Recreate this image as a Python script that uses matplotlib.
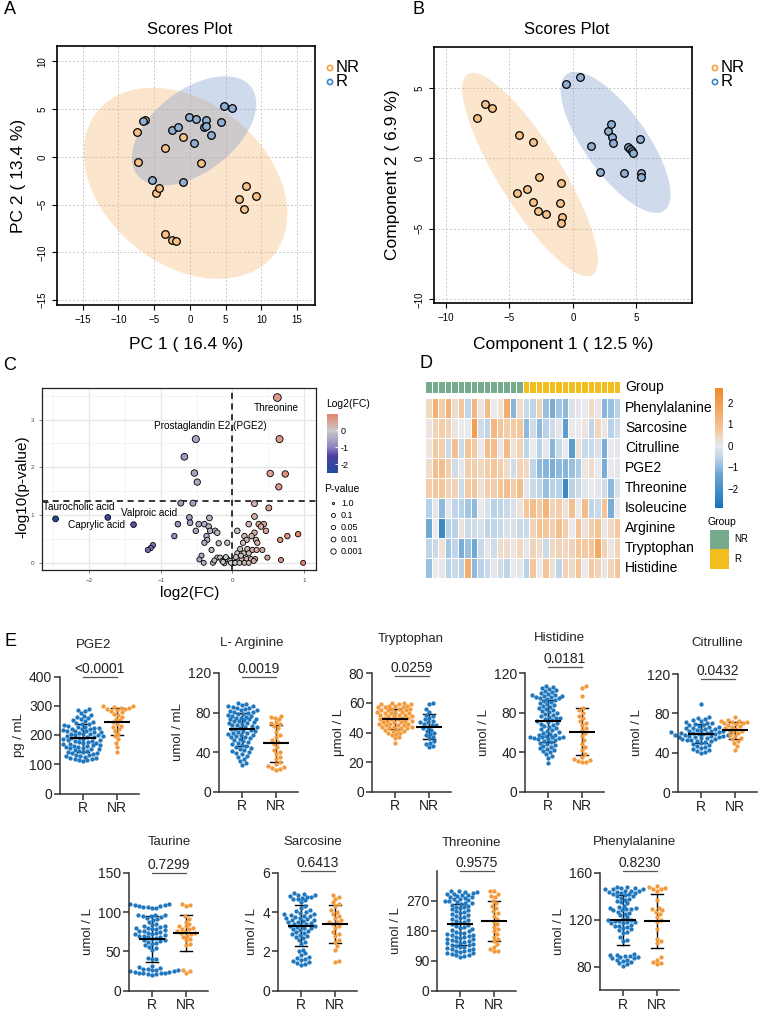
import numpy as np
import matplotlib
matplotlib.use("Agg")
import matplotlib as mpl
import matplotlib.pyplot as plt
from matplotlib.patches import Ellipse, Rectangle
from matplotlib.colors import LinearSegmentedColormap, ListedColormap, Normalize
from matplotlib.lines import Line2D

plt.rcParams['font.family'] = ['Liberation Sans', 'DejaVu Sans']

# ---------------- data ----------------
# A: PCA scores
pca_nr_x = [-7.4, -6.3, -7.3, -3.5, -1.0, 1.5, -4.7, -4.3, -3.5, -2.5, -2.0, 7.9, 6.9, 7.6, 9.3]
pca_nr_y = [2.6, 3.9, -0.5, 0.9, 2.1, -0.6, -3.8, -3.3, -8.1, -8.7, -8.8, -3.1, -4.4, -5.5, -4.1]
pca_r_x = [-6.6, -5.3, -2.5, -1.7, -0.1, 0.9, 2.2, 1.9, 2.2, 0.5, 3.0, 4.4, -0.9, 4.8, 5.9]
pca_r_y = [3.8, -2.4, 2.8, 3.1, 4.2, 4.0, 3.9, 3.1, 3.2, 1.4, 2.3, 3.6, -2.6, 5.3, 5.1]

# B: PLS-DA scores
pls_nr_x = [-7.53, -6.92, -6.34, -4.26, -3.16, -2.63, -4.42, -3.58, -3.16, -2.76, -2.13, -0.92, -1.05, -0.82, -0.95]
pls_nr_y = [2.85, 3.84, 3.54, 1.65, 1.16, -1.3, -2.43, -2.19, -3.11, -3.73, -3.92, -1.72, -3.14, -4.13, -4.55]
pls_r_x = [-0.53, 0.55, 1.42, 2.16, 2.76, 3.05, 3.08, 3.18, 4.0, 4.34, 4.53, 4.66, 4.74, 5.29, 5.39, 5.37]
pls_r_y = [5.26, 5.8, 0.85, -0.99, 1.93, 2.43, 1.53, 1.11, -1.06, 0.83, 0.66, 0.52, 0.4, 1.37, -1.06, -1.34]

# C: volcano
volc_fc = [0.63, 0.66, 0.53, 0.74, 0.65, -0.51, -0.67, -0.53, -0.49,
           -2.47, -1.74, -1.38, -1.11, -1.14, -1.18, -0.81, -0.76, -0.72, -0.55, -0.60,
           -0.59, -0.51, -0.47, -0.39, -0.32, -0.33, -0.31, -0.24, -0.21, -0.36, -0.35,
           -0.39, -0.19, -0.07, -0.29, -0.43, -0.46, -0.40, -0.27, -0.21, -0.17, -0.14,
           -0.11, -0.07, -0.03, 0.02, -0.02,
           0.31, 0.51, 0.31, 0.23, 0.37, 0.44, 0.47, 0.40, 0.31, 0.07, 0.17, 0.27,
           0.33, 0.35, 0.20, 0.15, 0.11, 0.21, 0.28, 0.34, 0.42, 0.49, 0.67, 0.77,
           0.92, 0.68, 0.99, 0.07, 0.16, 0.23, 0.07, 0.13, 0.20, 0.26, 0.32, 0.04,
           0.10, 0.17, 0.23, 0.30, -0.09, -0.13, 0.05, -0.25, 0.12]
volc_nlp = [3.46, 2.59, 1.87, 1.86, 1.59, 2.59, 2.22, 1.88, 1.69,
            0.92, 0.95, 0.80, 0.37, 0.31, 0.27, 0.56, 0.81, 1.25, 1.25, 0.95,
            0.84, 0.67, 0.81, 0.81, 0.94, 0.76, 0.67, 0.67, 0.63, 0.56, 0.48,
            0.42, 0.41, 0.42, 0.27, 0.15, 0.07, 0.0, 0.0, 0.11, 0.11, 0.04,
            -0.01, 0.08, 0.04, 0.0, 0.0,
            1.24, 1.15, 0.97, 0.81, 0.81, 0.81, 0.67, 0.76, 0.63, 0.67, 0.56, 0.56,
            0.48, 0.42, 0.48, 0.42, 0.29, 0.29, 0.27, 0.27, 0.27, 0.11, 0.48, 0.56,
            0.60, 0.06, 0.0, 0.20, 0.20, 0.20, 0.08, 0.08, 0.08, 0.08, 0.08, 0.0,
            0.0, 0.0, 0.0, 0.04, 0.12, 0.02, 0.12, 0.05, 0.15]
volc_labels = ["Threonine", "Prostaglandin E2 (PGE2)", "Taurocholic acid",
               "Caprylic acid", "Valproic acid"]
pval_legend = ["1.0", "0.1", "0.05", "0.01", "0.001"]

# D: heatmap (z-scores), 15 NR then 15 R columns
hm_rows = ["Phenylalanine", "Sarcosine", "Citrulline", "PGE2", "Threonine",
           "Isoleucine", "Arginine", "Tryptophan", "Histidine"]
hm_phe = [0.4, 1.4, 0.6, 1.3, 0.3, 0.8, -0.5, 1.2, 0.1, 1.1, 0.0, 0.2, 1.5, -1.1, 0.3,
          -0.4, -0.5, 0.5, -0.9, -1.2, -0.8, -1.0, -0.2, -0.1, 0.0, 0.3, 0.1, -1.1, -0.9, -0.6]
hm_sar = [0.1, 0.5, 0.6, 0.5, 0.1, 0.0, 0.0, 2.0, -0.3, -0.5, 1.2, 0.8, 0.6, 0.7, 0.8,
          -1.0, -0.3, -1.0, -0.6, -0.3, -0.1, -1.6, 0.0, 0.0, 0.1, -0.5, 0.4, 0.1, -0.6, -0.3]
hm_cit = [0.1, 0.7, 0.6, -0.4, 1.0, -0.4, 0.9, 0.7, 0.0, 1.0, 1.1, 0.1, 1.1, 0.2, 0.5,
          -0.5, 0.0, -0.6, -0.1, -1.1, -0.4, 0.0, -1.6, 0.2, -0.4, -0.4, -0.2, -1.2, 0.0, -0.1]
hm_pge = [0.3, 1.0, 1.0, 0.6, -0.3, -0.1, 0.6, 0.6, 0.4, 0.6, 0.8, 0.6, 0.3, -0.3, 0.5,
          0.4, -0.5, -1.0, -1.1, -1.2, -1.0, -1.1, -0.9, -0.7, 0.1, 0.3, 0.0, -1.2, 0.0, -0.1]
hm_thr = [0.6, 0.8, 0.8, 0.5, 0.5, -0.4, 0.7, 0.8, 0.2, 0.6, 0.6, 0.9, 1.0, 0.6, 1.0,
          -0.1, -0.4, -0.5, -0.9, -0.6, -0.6, -2.2, -0.6, -0.4, -0.1, 0.0, -0.1, -0.3, -1.0, -0.2]
hm_ile = [-0.6, -0.1, -1.0, -0.1, -0.5, -0.6, -0.8, -1.0, 0.0, -0.2, -0.6, -0.5, -0.4, -0.2, 0.2,
          0.8, 1.0, 0.7, 1.3, 0.5, 0.6, 0.2, 1.0, 0.0, 1.1, -0.5, -0.4, 0.9, -1.2, 0.0]
hm_arg = [-1.3, 0.0, -2.2, -0.6, -0.6, 0.2, -0.4, -0.3, -0.2, -0.5, -0.5, -0.4, -0.2, -0.2, -0.4,
          -0.4, 0.5, 0.9, 0.8, 0.6, 1.0, 0.6, 0.0, 0.9, 0.2, 0.6, 0.9, 0.1, 0.4, 0.7]
hm_trp = [-0.5, -0.4, 0.2, -0.8, -0.5, -1.2, -0.9, -1.3, -0.4, -0.1, -0.3, 0.3, 0.3, 0.1, 0.4,
          -0.1, 0.5, 0.3, -0.4, 0.4, 0.5, 0.4, 0.5, 0.8, 0.7, 0.8, 1.6, 0.5, 0.1, 0.5]
hm_his = [-0.9, 0.0, -0.1, -0.6, -0.4, -0.6, 1.5, -1.0, -0.6, -0.4, -0.1, -0.3, -0.5, 0.0, -0.1,
          -0.6, 0.8, 0.0, 0.8, 0.2, -0.5, 0.5, 0.4, 0.8, 0.0, 0.7, 0.5, 0.1, 0.5, 0.8]
hm_groups = ["NR"] * 15 + ["R"] * 15

# E: metabolite levels
pge2_r = [290, 286, 281, 276, 270, 265, 262, 258, 254, 250, 247, 244, 241, 238, 236, 233, 231, 229,
          227, 225, 224, 222, 220, 219, 217, 215, 214, 212, 210, 209, 207, 205, 204, 202, 200, 199,
          197, 195, 194, 192, 190, 189, 187, 185, 184, 182, 180, 179, 177, 175, 174, 172, 170, 169,
          167, 165, 164, 162, 160, 158, 157, 155, 153, 151, 149, 147, 145, 143, 141, 139, 137, 135,
          133, 131, 129, 127, 125, 123, 121, 119, 117, 115, 113, 111]
pge2_nr = [300, 298, 296, 294, 292, 290, 288, 285, 282, 278, 272, 268, 262, 256, 250, 244, 238,
           232, 226, 220, 212, 205, 196, 185, 172, 158, 143]
arg_r = [90, 89, 88, 87, 87, 86, 85, 85, 84, 83, 83, 82, 81, 81, 80, 79, 79, 78, 77, 77, 76, 75,
         75, 74, 73, 73, 72, 71, 71, 70, 69, 69, 68, 67, 67, 66, 65, 65, 64, 63, 63, 62, 61, 61,
         60, 59, 59, 58, 57, 57, 56, 55, 55, 54, 53, 52, 51, 50, 49, 48, 47, 46, 45, 44, 43, 42,
         41, 40, 39, 38, 36, 35, 33, 31, 29, 27]
arg_nr = [77, 76, 75, 73, 70, 69, 68, 66, 64, 60, 57, 55, 52, 50, 48, 45, 42, 40, 38, 35, 33, 30,
          28, 26, 25, 24, 23, 22]
trp_r = [60, 60, 59, 59, 59, 58, 58, 58, 57, 57, 57, 56, 56, 56, 55, 55, 55, 54, 54, 54, 53, 53,
         53, 52, 52, 52, 51, 51, 51, 50, 50, 50, 49, 49, 49, 48, 48, 48, 47, 47, 47, 46, 46, 46,
         45, 45, 45, 44, 44, 44, 43, 43, 43, 42, 42, 41, 41, 40, 40, 39, 38, 37, 36, 33]
trp_nr = [60, 59, 56, 54, 52, 51, 50, 49, 48, 47, 47, 46, 45, 45, 44, 43, 42, 41, 40, 39, 38, 37,
          36, 34, 33, 32, 31, 30]
his_r = [107, 106, 105, 104, 103, 102, 101, 100, 99, 98, 98, 97, 97, 96, 96, 95, 95, 94, 93, 92,
         91, 90, 89, 88, 87, 86, 85, 84, 83, 82, 81, 80, 79, 78, 77, 76, 75, 75, 74, 73, 72, 71,
         70, 69, 68, 67, 66, 65, 64, 63, 62, 61, 60, 59, 58, 58, 57, 56, 56, 55, 55, 54, 54, 53,
         53, 52, 51, 50, 49, 48, 47, 46, 45, 44, 43, 42, 41, 40, 38, 36, 34, 29]
his_nr = [107, 105, 97, 85, 83, 80, 77, 75, 72, 70, 68, 65, 63, 60, 57, 52, 48, 45, 42, 38, 35,
          33, 32, 31, 30, 30]
cit_r = [90, 76, 75, 74, 73, 72, 71, 70, 70, 69, 68, 68, 67, 66, 66, 65, 65, 64, 64, 63, 63, 62,
         62, 62, 61, 61, 61, 60, 60, 60, 59, 59, 59, 58, 58, 58, 57, 57, 57, 56, 56, 56, 55, 55,
         54, 54, 53, 53, 52, 52, 51, 50, 49, 48, 47, 46, 45, 44, 43, 42, 41, 40]
cit_nr = [76, 73, 72, 72, 71, 71, 70, 70, 69, 68, 67, 66, 65, 64, 63, 62, 61, 60, 58, 57, 55, 54,
          52, 50, 47, 43]
tau_r = [110, 110, 109, 109, 108, 108, 107, 107, 106, 105,
         97, 96, 96, 95, 95, 94, 93, 92, 90, 88,
         85, 84, 83, 82, 81, 80, 80, 79, 78, 77, 76, 76, 75, 74, 73, 72, 72, 71, 70, 70, 69, 68,
         67, 66, 65, 64, 63, 62, 61, 60, 58, 56, 55, 52,
         42, 41, 40,
         32, 30, 29, 28, 28, 27, 26, 26, 25, 25, 24, 24, 23, 23, 22, 22, 21, 21, 20]
tau_nr = [110, 109, 108, 95, 92, 88, 85, 83, 82, 80, 79, 78, 76, 75, 74, 73, 72, 70, 68, 66, 64,
          60, 58, 27, 25, 23]
sar_r = [5.0, 4.95, 4.9, 4.9, 4.85, 4.8, 4.8, 4.75, 4.7, 4.65, 4.6, 4.5,
         4.3, 4.2, 4.1, 4.05, 4.0, 3.95, 3.9, 3.9, 3.85, 3.8, 3.8, 3.75, 3.7, 3.7, 3.65, 3.6, 3.6,
         3.55, 3.5, 3.5, 3.45, 3.4, 3.4, 3.35, 3.3, 3.3, 3.25, 3.2, 3.2, 3.15, 3.1, 3.05, 3.0,
         2.95, 2.9, 2.85, 2.8, 2.75, 2.7, 2.6, 2.5, 2.4,
         2.1, 2.0, 1.9, 1.8, 1.7, 1.65, 1.6, 1.55, 1.5, 1.45, 1.4, 1.35, 1.3]
sar_nr = [4.9, 4.8, 4.7, 4.5, 4.4, 4.3, 4.1, 4.0, 3.9, 3.8, 3.7, 3.6, 3.5, 3.5, 3.4, 3.3, 3.2,
          3.0, 2.9, 2.8, 2.6, 2.5, 2.3, 2.1, 1.5, 1.45]
thr_r = [300, 298, 296, 295, 293, 291, 290, 288, 286, 284, 282, 280, 278, 276, 274, 272, 270,
         268, 266, 264, 262, 260, 258, 255, 252, 250, 247, 244, 241, 238, 235, 232, 229, 226,
         223, 220, 217, 214, 211, 208, 205, 202, 199, 196, 193, 190, 187, 184, 181, 178, 176,
         174, 172, 170, 168, 166, 164, 162, 160, 158, 156, 154, 152, 150, 148, 146, 144, 142,
         140, 138, 136, 134, 132, 130, 128, 126, 124, 122, 120, 118, 116, 114, 112, 110, 108,
         106, 104, 102]
thr_nr = [300, 298, 290, 285, 280, 270, 262, 255, 248, 238, 232, 225, 215, 207, 200, 192, 185,
          178, 170, 162, 155, 148, 140, 132, 125, 120, 118]
phe_r = [148, 148, 147, 147, 146, 146, 146, 145, 145, 145, 144, 144, 143, 143, 142, 142, 141,
         140, 140, 139, 138, 137, 136, 135, 134,
         132, 131, 130, 130, 129, 129, 128, 128, 127, 126, 125, 124,
         122, 121, 120, 120, 119, 119, 118, 118, 117, 117, 116, 115, 115, 114, 113, 112, 111,
         110, 109, 105, 103, 102,
         91, 90, 90, 89, 89, 88, 88, 87, 87, 86, 86, 85, 84, 83, 82, 81]
phe_nr = [149, 148, 147, 146, 146, 145, 137, 130, 129, 128, 127, 125, 122, 120, 118, 112, 104,
          102, 100, 88, 86, 84, 83, 82]

e_titles = ["PGE2", "L- Arginine", "Tryptophan", "Histidine", "Citrulline",
            "Taurine", "Sarcosine", "Threonine", "Phenylalanine"]
e_units = ["pg / mL", "umol / mL", "\u03bcmol / L", "umol / L", "umol / L",
           "umol / L", "umol / L", "umol / L", "umol / L"]
e_pvals = ["<0.0001", "0.0019", "0.0259", "0.0181", "0.0432",
           "0.7299", "0.6413", "0.9575", "0.8230"]
e_r = [pge2_r, arg_r, trp_r, his_r, cit_r, tau_r, sar_r, thr_r, phe_r]
e_nr = [pge2_nr, arg_nr, trp_nr, his_nr, cit_nr, tau_nr, sar_nr, thr_nr, phe_nr]
e_yticks = [[0, 100, 200, 300, 400], [0, 40, 80, 120], [0, 20, 40, 60, 80], [0, 40, 80, 120],
            [0, 40, 80, 120], [0, 50, 100, 150], [0, 2, 4, 6], [0, 90, 180, 270],
            [80, 120, 160]]
e_ylim = [(0, 400), (0, 120), (0, 80), (0, 120), (0, 120), (0, 150), (0, 6), (0, 360), (60, 160)]

# ---------------- layout helpers ----------------
W, H = 759, 1015
fig = plt.figure(figsize=(W / 100, H / 100), dpi=100)


def rect(l, t, r, b):
    return [l / W, 1 - b / H, (r - l) / W, (b - t) / H]


def ftext(x, y, s, **kw):
    fig.text(x / W, 1 - y / H, s, **kw)


NR_PT, R_PT = "#F6C28A", "#8FAFD3"
NR_ELL, R_ELL = "#F5B971", "#7A96CC"


def conf_ellipse(ax, x, y, color):
    x, y = np.asarray(x), np.asarray(y)
    vals, vecs = np.linalg.eigh(np.cov(x, y))
    k = np.sqrt(5.991)
    ang = np.degrees(np.arctan2(vecs[1, 1], vecs[0, 1]))
    ax.add_patch(Ellipse((x.mean(), y.mean()), 2 * k * np.sqrt(vals[1]), 2 * k * np.sqrt(vals[0]),
                         angle=ang, fc=color, alpha=0.35, ec="none", zorder=1))


def scores_panel(box, xlim, ylim, xt, yt, nrx, nry, rx, ry, title, xl, yl, leg_x, title_x, yl_x):
    ax = fig.add_axes(rect(*box))
    ax.set_xlim(*xlim)
    ax.set_ylim(*ylim)
    ax.set_xticks(xt)
    ax.set_yticks(yt)
    ax.grid(True, ls=(0, (2, 2)), color="#C8C8C8", lw=0.7)
    ax.set_axisbelow(True)
    conf_ellipse(ax, nrx, nry, NR_ELL)
    conf_ellipse(ax, rx, ry, R_ELL)
    ax.scatter(nrx, nry, s=30, fc=NR_PT, ec="black", lw=0.9, zorder=3)
    ax.scatter(rx, ry, s=30, fc=R_PT, ec="black", lw=0.9, zorder=3)
    for sp in ax.spines.values():
        sp.set_linewidth(1.2)
    ax.tick_params(labelsize=7, length=3.5, width=0.8)
    for lab in ax.get_yticklabels():
        lab.set_rotation(90)
        lab.set_va("center")
    ftext(title_x, 29, title, fontsize=12, ha="center", va="center")
    ftext((box[0] + box[2]) / 2, 344, xl, fontsize=12.5, ha="center", va="center")
    ftext(yl_x, (box[1] + box[3]) / 2, yl, fontsize=12.5, ha="center", va="center", rotation=90)
    lax = fig.add_axes(rect(leg_x - 6, 60, leg_x + 40, 90))
    lax.set_xlim(0, 46)
    lax.set_ylim(30, 0)
    lax.axis("off")
    lax.scatter([6, 6], [8, 22], s=14, fc="white", ec=["#F5A142", "#3C86C6"], lw=1.2)
    lax.text(12, 8, "NR", fontsize=12, va="center")
    lax.text(12, 22, "R", fontsize=12, va="center")
    return ax


# ---------------- A ----------------
scores_panel((57, 46, 315, 305), (-18.6, 17.5), (-15.5, 11.6), range(-15, 16, 5), range(-15, 11, 5),
             pca_nr_x, pca_nr_y, pca_r_x, pca_r_y, "Scores Plot", "PC 1 ( 16.4 %)",
             "PC 2 ( 13.4 %)", 330, 190, 19)
# ---------------- B ----------------
scores_panel((434, 47, 692, 303), (-10.95, 9.4), (-10.26, 7.9), [-10, -5, 0, 5], [-10, -5, 0, 5],
             pls_nr_x, pls_nr_y, pls_r_x, pls_r_y, "Scores Plot", "Component 1 ( 12.5 %)",
             "Component 2 ( 6.9 %)", 715, 567, 392)

# ---------------- C ----------------
fc_cmap = LinearSegmentedColormap.from_list(
    "fc", [(0.0, "#1F4E9E"), (0.29, "#4B3F9E"), (0.43, "#8E80C0"), (0.72, "#C8C8C8"), (1.0, "#E5836B")])
fc_norm = Normalize(-2.5, 0.95)
axc = fig.add_axes(rect(42, 388, 316, 570))
axc.set_xlim(-2.66, 1.17)
axc.set_ylim(-0.15, 3.66)
axc.set_xticks([-2, -1, 0, 1])
axc.set_xticks([-2.5, -1.5, -0.5, 0.5], minor=True)
axc.set_yticks([0, 1, 2, 3])
axc.set_yticks([0.5, 1.5, 2.5, 3.5], minor=True)
axc.grid(True, which="major", color="#E6E6E6", lw=0.9)
axc.grid(True, which="minor", color="#F0F0F0", lw=0.5)
axc.set_axisbelow(True)
axc.tick_params(which="major", labelsize=4.5, labelcolor="#4D4D4D", color="#4D4D4D", length=2, width=0.5)
axc.tick_params(which="minor", length=0)
for sp in axc.spines.values():
    sp.set_linewidth(0.9)
    sp.set_color("#222222")
axc.axhline(1.3, ls=(0, (4, 3)), color="black", lw=1.1, zorder=2)
axc.axvline(0, ls=(0, (4, 3)), color="black", lw=1.1, zorder=2)
nlp = np.array(volc_nlp)
sizes = ((5.0 + 0.8 * np.clip(nlp, 0, None)) * 0.72) ** 2
axc.scatter(volc_fc, volc_nlp, c=volc_fc, cmap=fc_cmap, norm=fc_norm, s=sizes,
            ec="black", lw=0.6, zorder=3)
lab_pos = [(0.62, 3.24), (-0.31, 2.87), (-2.14, 1.17), (-1.90, 0.80), (-1.16, 1.05)]
for txt, (lx, ly) in zip(volc_labels, lab_pos):
    axc.text(lx, ly, txt, fontsize=7.2, ha="center", va="center", zorder=4)
ftext(22, 487, "-log10(p-value)", fontsize=11, rotation=90, ha="center", va="center")
ftext(190, 593, "log2(FC)", fontsize=11, ha="center", va="center")

cax = fig.add_axes(rect(327, 414, 338, 473))
cb = mpl.colorbar.ColorbarBase(cax, cmap=fc_cmap, norm=fc_norm, ticks=[-2, -1, 0])
cb.set_ticklabels(["-2", "-1", "0"])
cb.outline.set_visible(False)
cax.tick_params(labelsize=6.5, length=2.5, width=0.6, color="white", direction="in", pad=2)
ftext(326, 404, "Log2(FC)", fontsize=7.5, ha="left", va="center")
ftext(324, 489, "P-value", fontsize=7.5, ha="left", va="center")
leg_d = [2.2, 4.0, 4.3, 4.8, 5.4]
lc = fig.add_axes(rect(326, 497, 376, 557))
lc.set_xlim(326, 376)
lc.set_ylim(557, 497)
lc.axis("off")
for i, (lbl, d) in enumerate(zip(pval_legend, leg_d)):
    yy = 503 + 12 * i
    lc.scatter([333], [yy], s=(d * 0.72) ** 2, fc="white" if i else "#BBBBBB", ec="black", lw=0.6)
    lc.text(341, yy, lbl, fontsize=6.5, va="center")

# ---------------- D ----------------
hm = np.array([hm_phe, hm_sar, hm_cit, hm_pge, hm_thr, hm_ile, hm_arg, hm_trp, hm_his])
hm_norm = Normalize(-2.9, 2.7)
hm_cmap = LinearSegmentedColormap.from_list(
    "hm", [(0.0, "#1674BB"), (0.27, "#68A3D2"), (0.4, "#B3CFE6"), (2.9 / 5.6, "#EAEAEC"),
           (0.64, "#F4CBA5"), (0.8, "#F3AB68"), (1.0, "#F28A25")])
axd = fig.add_axes(rect(425, 398, 620, 578))
axd.pcolormesh(hm, cmap=hm_cmap, norm=hm_norm, edgecolors="white", linewidth=0.5)
axd.set_xlim(0, hm.shape[1])
axd.set_ylim(hm.shape[0], 0)
axd.axis("off")
for i, name in enumerate(hm_rows):
    axd.text(hm.shape[1] + 0.8, i + 0.5, name, fontsize=10, va="center", ha="left")
grp_cols = {"NR": "#77AB8D", "R": "#F2BE1E"}
axg = fig.add_axes(rect(425, 381, 620, 393))
gcode = np.array([[0 if g == "NR" else 1 for g in hm_groups]])
axg.pcolormesh(gcode, cmap=ListedColormap([grp_cols["NR"], grp_cols["R"]]), vmin=0, vmax=1,
               edgecolors="white", linewidth=0.5)
axg.set_xlim(0, len(hm_groups))
axg.axis("off")
ftext(625, 387, "Group", fontsize=10, ha="left", va="center")
cdx = fig.add_axes(rect(715, 388, 723, 508))
cbd = mpl.colorbar.ColorbarBase(cdx, cmap=hm_cmap, norm=hm_norm, ticks=[-2, -1, 0, 1, 2])
cbd.outline.set_visible(False)
cdx.tick_params(labelsize=7, length=0, pad=3)
ftext(722, 522, "Group", fontsize=7.5, ha="center", va="center")
for j, g in enumerate(["NR", "R"]):
    fig.add_artist(Rectangle((710 / W, 1 - (549 + 19.5 * j) / H), 19 / W, 19.5 / H,
                             transform=fig.transFigure, fc=grp_cols[g], ec="none"))
    ftext(734, 539 + 19.5 * j, g, fontsize=7, ha="left", va="center")

# ---------------- E ----------------
E_BLUE, E_ORANGE = "#1F77BE", "#F39A3B"
e_layout = [  # left, top, bottom, title_x, title_y, p_y, line_y
    (60, 676.5, 793.5, 94, 645, 669, 677),
    (219, 673, 791.7, 252, 643, 669, 677),
    (372, 673.3, 791.7, 411, 639, 668, 676),
    (525, 673.3, 791.8, 559, 638, 659, 667),
    (678, 674, 792, 717, 643, 671, 679),
    (129, 873, 990.7, 169, 842, 865, 873),
    (278, 873, 990.7, 313, 842, 863, 871),
    (437, 870.7, 990.7, 472, 843, 863, 871),
    (600, 873, 990.1, 635, 842, 863, 871),
]


def swarm(ax, xc, vals, d=4.4):
    vals = np.asarray(vals, float)
    pts = ax.transData.transform(np.column_stack([np.full(len(vals), xc), vals]))
    x0, ys = pts[0, 0], pts[:, 1]
    offs = np.zeros(len(vals))
    placed = []
    for i in np.argsort(ys):
        y = ys[i]
        near = [(o, py) for o, py in placed if abs(py - y) < d]
        cands = [0.0]
        for o, py in near:
            dx = np.sqrt(d * d - (py - y) ** 2)
            cands += [o + dx, o - dx]
        for c in sorted(cands, key=abs):
            if all((c - o) ** 2 + (py - y) ** 2 >= d * d - 1e-6 for o, py in near):
                offs[i] = c
                placed.append((c, y))
                break
    return ax.transData.inverted().transform(np.column_stack([x0 + offs, ys]))[:, 0]


for k in range(9):
    l, top, bot, tx, ty, py, ly = e_layout[k]
    ax = fig.add_axes(rect(l, top, l + 79, bot))
    ax.set_xlim(-0.676, 1.647)
    ax.set_ylim(*e_ylim[k])
    ax.set_yticks(e_yticks[k])
    ax.set_xticks([0, 1])
    ax.set_xticklabels(["R", "NR"])
    for s in ["top", "right"]:
        ax.spines[s].set_visible(False)
    for s in ["left", "bottom"]:
        ax.spines[s].set_linewidth(1.1)
        ax.spines[s].set_color("#333333")
    ax.tick_params(labelsize=10, length=4, width=1.1, color="#333333", labelcolor="#222222", pad=1.5)
    ax.set_ylabel(e_units[k], fontsize=9.5, labelpad=3, color="#222222")
    cols = (E_ORANGE, E_BLUE) if k == 2 else (E_BLUE, E_ORANGE)
    for xc, vals, col in [(0, e_r[k], cols[0]), (1, e_nr[k], cols[1])]:
        xs = swarm(ax, xc, vals)
        ax.scatter(xs, vals, s=9.5, color=col, lw=0, zorder=2, clip_on=False)
        m, sd = np.mean(vals), np.std(vals, ddof=1)
        ax.plot([xc - 0.38, xc + 0.38], [m, m], color="black", lw=1.5, zorder=3, solid_capstyle="butt")
        ax.plot([xc, xc], [m - sd, m + sd], color="black", lw=1.0, zorder=1.5)
        for yy in (m - sd, m + sd):
            ax.plot([xc - 0.17, xc + 0.17], [yy, yy], color="black", lw=1.0, zorder=1.5)
    ftext(tx, ty, e_titles[k], fontsize=9.5, ha="center", va="center", color="#222222")
    ftext(l + 40, py, e_pvals[k], fontsize=10, ha="center", va="center", color="#222222")
    fig.add_artist(Line2D([(l + 23) / W, (l + 57) / W], [1 - ly / H, 1 - ly / H],
                          transform=fig.transFigure, color="#555555", lw=0.9))

# panel letters
for letter, (x, y) in {"A": (10, 10), "B": (419, 10), "C": (10, 366), "D": (426, 363),
                       "E": (10, 642)}.items():
    ftext(x, y, letter, fontsize=13, ha="center", va="center")

fig.savefig("out.png", dpi=100)
